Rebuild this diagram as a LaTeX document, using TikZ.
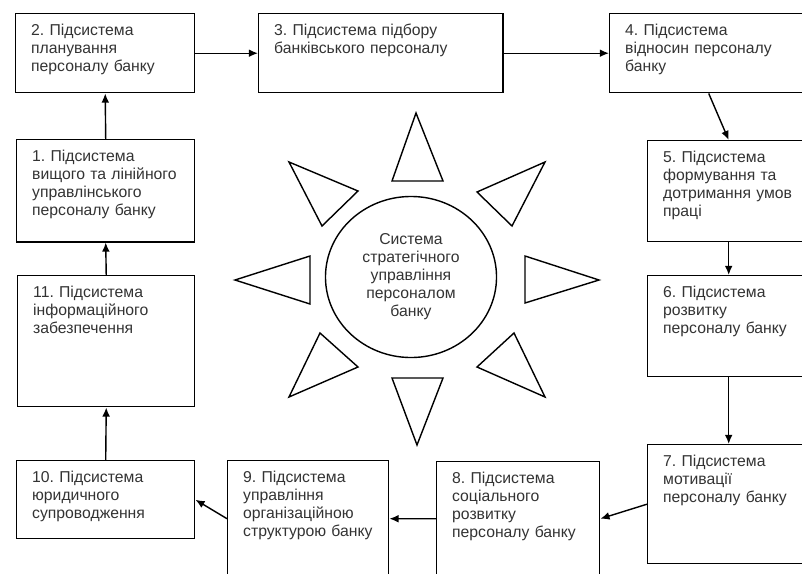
\documentclass[tikz,border=0pt]{standalone}
\usepackage{fontspec}
\setmainfont{Liberation Sans}
\frenchspacing
\usetikzlibrary{shapes.geometric,arrows.meta}

\begin{document}
\begin{tikzpicture}[x=0.025cm, y=-0.025cm,
      sub/.style={draw, line width=1pt, anchor=north west, align=left,
                  inner xsep=11pt, inner ysep=6pt, text height=9.6pt,
                  font=\fontsize{11.2}{12.8}\selectfont, text=black!80},
      core/.style={draw, line width=1pt, ellipse, inner sep=0pt, align=center,
                   font=\fontsize{11.2}{12.8}\selectfont, text=black!80},
      ray/.style={draw, line width=1pt, line join=miter},
      link/.style={line width=1pt, -{Latex[length=6.5pt,width=5.5pt]}}]
    \clip (0,0) rectangle (802,573);
    % subsystems round the core
    \node[sub, text width=105.3pt, text depth=34.6pt] (b2) at (15,13) {2. Підсистема\\планування\\персоналу банку};
    \node[sub, text width=151.6pt, text depth=34.6pt] (b3) at (258,13) {3. Підсистема підбору\\банківського персоналу};
    \node[sub, text width=118.8pt, text depth=34.6pt] (b4) at (609,13) {4. Підсистема\\відносин персоналу\\банку};
    \node[sub, text width=106pt, text depth=50.2pt] (b5) at (647,140) {5. Підсистема\\формування та\\дотримання умов\\праці};
    \node[sub, text width=106pt, text depth=50.2pt] (b6) at (647,275) {6. Підсистема\\розвитку\\персоналу банку};
    \node[sub, text width=106pt, text depth=63pt] (b7) at (647,444) {7. Підсистема\\мотивації\\персоналу банку};
    \node[sub, text width=93.9pt, text depth=59.5pt] (b8) at (436,461) {8. Підсистема\\соціального\\розвитку\\персоналу банку};
    \node[sub, text width=92.5pt, text depth=60.9pt] (b9) at (227,460) {9. Підсистема\\управління\\організаційною\\структурою банку};
    \node[sub, text width=104.6pt, text depth=33.9pt] (b10) at (16,460) {10. Підсистема\\юридичного\\супроводження};
    \node[sub, text width=103.9pt, text depth=71.6pt] (b11) at (17,275) {11. Підсистема\\інформаційного\\забезпечення};
    \node[sub, text width=104.6pt, text depth=51pt] (b1) at (16,139) {1. Підсистема\\вищого та лінійного\\управлінського\\персоналу банку};

    % the core with its rays
    \node[core, minimum width=4.275cm, minimum height=4.025cm] (sys) at (411,277) {Система\\стратегічного\\управління\\персоналом\\банку};
    \draw[ray] (416,113) -- (392,181) -- (443,181) -- cycle;
    \draw[ray] (545,162) -- (477,192) -- (512,226) -- cycle;
    \draw[ray] (599,280) -- (525,256) -- (525,303) -- cycle;
    \draw[ray] (545,397) -- (514,333) -- (477,367) -- cycle;
    \draw[ray] (417,445) -- (392,378) -- (443,378) -- cycle;
    \draw[ray] (289,397) -- (320,333) -- (358,367) -- cycle;
    \draw[ray] (235,280) -- (310,256) -- (310,304) -- cycle;
    \draw[ray] (289,162) -- (358,191) -- (322,226) -- cycle;

    % links
    \draw[link] (b1.north) -- (b2.south);
    \draw[link] (b2.east) -- (b3.west);
    \draw[link] (b3.east) -- (b4.west);
    \draw[link] (b4.south) -- ([xshift=-0.225cm]b5.north);
    \draw[link] ([xshift=-0.225cm]b5.south) -- ([xshift=-0.225cm]b6.north);
    \draw[link] ([xshift=-0.225cm]b6.south) -- ([xshift=-0.225cm]b7.north);
    \draw[link] (b7.west) -- (b8.east);
    \draw[link] (b8.west) -- (b9.east);
    \draw[link] (b9.west) -- (b10.east);
    \draw[link] (b10.north) -- (b11.south);
    \draw[link] (b11.north) -- (b1.south);
\end{tikzpicture}
\end{document}
